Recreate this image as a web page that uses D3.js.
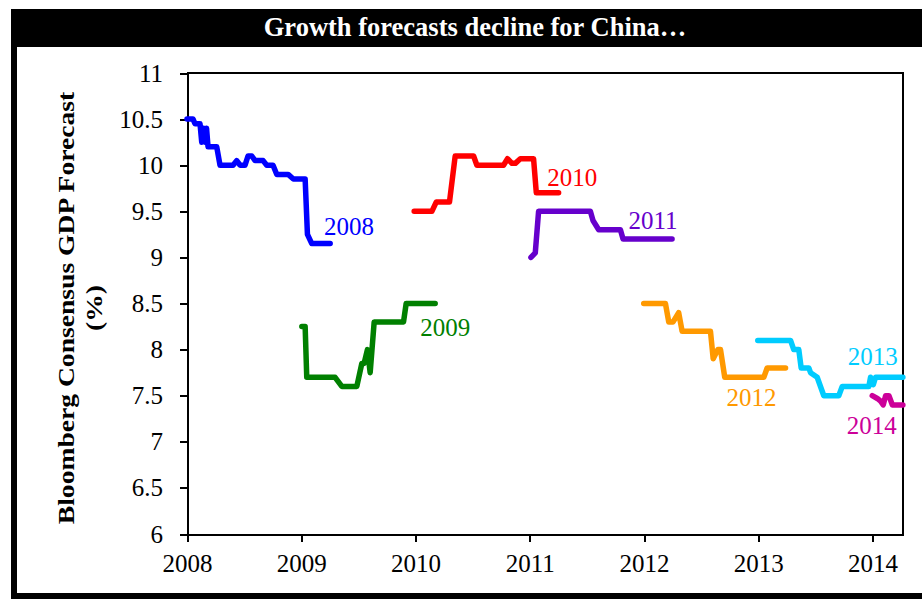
<!DOCTYPE html>
<html lang="en">
<head>
<meta charset="UTF-8">
<title>Growth forecasts decline for China</title>
<style>
  body { margin: 0; background: #fff; }
  svg { display: block; font-family: "Liberation Serif", "Times New Roman", serif; }
  .axis path, .axis line { stroke: #000; stroke-width: 2px; shape-rendering: crispEdges; }
  .axis text { font-size: 25px; fill: #000; font-family: "Liberation Serif", "Times New Roman", serif; }
  .series { fill: none; stroke-width: 5.5px; stroke-linejoin: round; stroke-linecap: round; }
  .lbl { font-size: 25px; }
</style>
</head>
<body>
<script src="https://cdnjs.cloudflare.com/ajax/libs/d3/7.8.5/d3.min.js"></script>
<script>
// forecast paths (decimal year, % GDP forecast)
var years2008 = [2008.000, 2008.053, 2008.070, 2008.114, 2008.129, 2008.145, 2008.158, 2008.171, 2008.184, 2008.260,
                 2008.289, 2008.403, 2008.435, 2008.464, 2008.508, 2008.534, 2008.567, 2008.596, 2008.666, 2008.698,
                 2008.753, 2008.786, 2008.885, 2008.931, 2009.034, 2009.054, 2009.092, 2009.253];
var values2008 = [10.5, 10.5, 10.45, 10.45, 10.25, 10.4, 10.25, 10.4, 10.2, 10.2,
                  10.0, 10.0, 10.05, 10.0, 10.0, 10.1, 10.1, 10.05, 10.05, 10.0,
                  10.0, 9.9, 9.9, 9.85, 9.85, 9.25, 9.15, 9.15];

var years2009 = [2009.005, 2009.034, 2009.048, 2009.296, 2009.355, 2009.486, 2009.530, 2009.550, 2009.579, 2009.603,
                 2009.638, 2009.895, 2009.918, 2010.172];
var values2009 = [8.25, 8.25, 7.7, 7.7, 7.6, 7.6, 7.85, 7.85, 8.0, 7.75,
                  8.3, 8.3, 8.5, 8.5];

var years2010 = [2009.988, 2010.143, 2010.181, 2010.297, 2010.347, 2010.508, 2010.537, 2010.770, 2010.805, 2010.844,
                 2010.873, 2010.917, 2011.033, 2011.057, 2011.252];
var values2010 = [9.5, 9.5, 9.6, 9.6, 10.1, 10.1, 10.0, 10.0, 10.07, 10.02,
                  10.02, 10.07, 10.07, 9.7, 9.7];

var years2011 = [2011.010, 2011.048, 2011.077, 2011.530, 2011.553, 2011.603, 2011.793, 2011.816, 2012.245];
var values2011 = [9.0, 9.05, 9.5, 9.5, 9.4, 9.3, 9.3, 9.2, 9.2];

var years2012 = [2011.997, 2012.187, 2012.216, 2012.254, 2012.303, 2012.333, 2012.581, 2012.605, 2012.645, 2012.669,
                 2012.706, 2013.048, 2013.077, 2013.238];
var values2012 = [8.5, 8.5, 8.3, 8.3, 8.4, 8.2, 8.2, 7.9, 8.0, 8.0,
                  7.7, 7.7, 7.8, 7.8];

var years2013 = [2012.995, 2013.282, 2013.310, 2013.354, 2013.375, 2013.442, 2013.457, 2013.515, 2013.573, 2013.704,
                 2013.734, 2013.967, 2013.982, 2014.006, 2014.026, 2014.070, 2014.265];
var values2013 = [8.1, 8.1, 8.0, 8.0, 7.8, 7.8, 7.75, 7.7, 7.5, 7.5,
                  7.6, 7.6, 7.7, 7.62, 7.7, 7.7, 7.7];

var years2014 = [2013.997, 2014.041, 2014.070, 2014.093, 2014.114, 2014.143, 2014.173, 2014.265];
var values2014 = [7.5, 7.47, 7.44, 7.4, 7.5, 7.5, 7.4, 7.4];

var seriesNames = ["2008", "2009", "2010", "2011", "2012", "2013", "2014"];
var seriesColors = ["#0000ff", "#008000", "#ff0000", "#6600cc", "#ff9900", "#00ccff", "#cc0099"];
// where each year label sits (year, value at baseline)
var labelYears = [2009.200, 2010.041, 2011.153, 2011.863, 2012.721, 2013.782, 2013.774];
var labelValues = [9.243, 8.148, 9.774, 9.308, 7.388, 7.833, 7.085];

var xTicks = [2008, 2009, 2010, 2011, 2012, 2013, 2014];
var yTicks = [6, 6.5, 7, 7.5, 8, 8.5, 9, 9.5, 10, 10.5, 11];

var allYears = [years2008, years2009, years2010, years2011, years2012, years2013, years2014];
var allValues = [values2008, values2009, values2010, values2011, values2012, values2013, values2014];

var W = 922, H = 599;
var margin = {top: 73, right: 19, bottom: 65, left: 187};
var width = W - margin.left - margin.right,
    height = H - margin.top - margin.bottom;

var svg = d3.select("body").append("svg")
    .attr("width", W)
    .attr("height", H);

// outer frame + title bar
svg.append("rect")
    .attr("x", 14).attr("y", 12)
    .attr("width", 940).attr("height", 584)
    .attr("fill", "#fff")
    .attr("stroke", "#000")
    .attr("stroke-width", 6);
svg.append("rect")
    .attr("x", 11).attr("y", 9)
    .attr("width", 920).attr("height", 38)
    .attr("fill", "#000");
svg.append("text")
    .attr("x", 475).attr("y", 36)
    .attr("text-anchor", "middle")
    .attr("fill", "#fff")
    .style("font-size", "26.5px")
    .style("font-weight", "bold")
    .text("Growth forecasts decline for China\u2026");

var g = svg.append("g")
    .attr("transform", "translate(" + margin.left + "," + margin.top + ")");

var x = d3.scaleLinear().domain([2008, 2014.266]).range([0, width]);
var y = d3.scaleLinear().domain([6, 11]).range([height, 0]);

// plot box (top + right)
g.append("path")
    .attr("d", "M0,0H" + width + "V" + height)
    .attr("fill", "none")
    .attr("stroke", "#000")
    .attr("stroke-width", 2)
    .style("shape-rendering", "crispEdges");

var xAxis = g.append("g")
    .attr("class", "axis")
    .attr("transform", "translate(0," + height + ")")
    .call(d3.axisBottom(x).tickValues(xTicks).tickFormat(d3.format("d")).tickSizeInner(8).tickSizeOuter(0).tickPadding(6));
xAxis.attr("font-family", null).attr("font-size", null);
xAxis.selectAll("text").attr("dy", "0.95em");

var yAxis = g.append("g")
    .attr("class", "axis")
    .call(d3.axisLeft(y).tickValues(yTicks).tickFormat(d3.format("")).tickSizeInner(7).tickSizeOuter(0).tickPadding(17));
yAxis.attr("font-family", null).attr("font-size", null);

// y axis title, two lines
svg.append("text")
    .attr("transform", "translate(74,308) rotate(-90) scale(1.2,1)")
    .attr("text-anchor", "middle")
    .style("font-size", "23px")
    .style("font-weight", "bold")
    .text("Bloomberg Consensus GDP Forecast");
svg.append("text")
    .attr("transform", "translate(102,308) rotate(-90) scale(1.2,1)")
    .attr("text-anchor", "middle")
    .style("font-size", "23px")
    .style("font-weight", "bold")
    .text("(%)");

var line = d3.line()
    .x(function (d) { return x(d[0]); })
    .y(function (d) { return y(d[1]); });

seriesNames.forEach(function (name, i) {
    var pts = d3.zip(allYears[i], allValues[i]);
    g.append("path")
        .datum(pts)
        .attr("class", "series")
        .attr("stroke", seriesColors[i])
        .attr("d", line);
    g.append("text")
        .attr("class", "lbl")
        .attr("x", x(labelYears[i]))
        .attr("y", y(labelValues[i]))
        .attr("fill", seriesColors[i])
        .text(name);
});
</script>
</body>
</html>
